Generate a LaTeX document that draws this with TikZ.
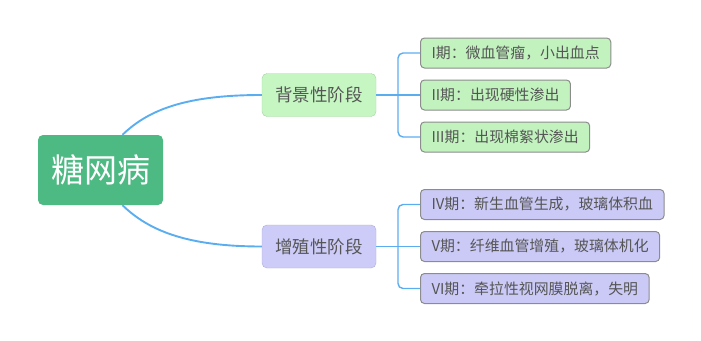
\documentclass[tikz,border=0pt]{standalone}
\usepackage{fontspec}
\setmainfont{Noto Sans CJK SC}
\definecolor{rootgreen}{HTML}{4DB983}
\definecolor{stageG}{HTML}{C6F7C3}
\definecolor{stageP}{HTML}{CDCCF8}
\definecolor{leafG}{HTML}{C2F3BF}
\definecolor{leafP}{HTML}{CBCAF6}
\definecolor{linkblue}{HTML}{5AAEF0}
\definecolor{txtgray}{HTML}{555555}
\begin{document}
\begin{tikzpicture}[x=1pt,y=-1pt,
  conn/.style={draw=linkblue, line width=1.9pt},
  bracket/.style={draw=linkblue, line width=1.4pt},
  rootbox/.style={rounded corners=5pt, fill=rootgreen, text=white,
    font=\fontsize{33}{36}\selectfont, minimum width=125pt, minimum height=70pt, inner sep=0pt},
  stagebox/.style={rounded corners=5pt, fill=#1, draw=#1!85!black, line width=0.4pt, text=txtgray,
    font=\fontsize{17.5}{20}\selectfont, minimum width=114pt, minimum height=43pt, inner sep=0pt},
  leafbox/.style={rounded corners=4pt, fill=#1, draw=black!45, line width=1pt, text=txtgray,
    font=\fontsize{14.9}{17}\selectfont, minimum height=30pt, inner xsep=11pt, inner ysep=0pt, anchor=west}
]
\useasboundingbox (0,0) rectangle (701,340);
\node[rootbox] (root) at (100.5,170) {糖网病};
\node[stagebox=stageG] (s1) at (319,95) {背景性阶段};
\node[stagebox=stageP] (s2) at (319,246.5) {增殖性阶段};

\node[leafbox=leafG] (l1) at (420,53) {I期：微血管瘤，小出血点};
\node[leafbox=leafG] (l2) at (420,95) {II期：出现硬性渗出};
\node[leafbox=leafG] (l3) at (420,137) {III期：出现棉絮状渗出};
\node[leafbox=leafP] (l4) at (420,204.5) {IV期：新生血管生成，玻璃体积血};
\node[leafbox=leafP] (l5) at (420,246.5) {V期：纤维血管增殖，玻璃体机化};
\node[leafbox=leafP] (l6) at (420,288.5) {VI期：牵拉性视网膜脱离，失明};

\coordinate (b1) at (398,95);
\coordinate (b2) at (398,246.5);

\draw[conn] ([xshift=22pt]root.north) .. controls (150,108) and (190,95) .. (s1.west);
\draw[conn] ([xshift=22pt]root.south) .. controls (150,232) and (190,246.5) .. (s2.west);

\draw[bracket] (s1.east) -- (b1);
\draw[bracket, rounded corners=5pt] (b1) |- (l1.west);
\draw[bracket] (b1) -- (l2.west);
\draw[bracket, rounded corners=5pt] (b1) |- (l3.west);

\draw[bracket] (s2.east) -- (b2);
\draw[bracket, rounded corners=5pt] (b2) |- (l4.west);
\draw[bracket] (b2) -- (l5.west);
\draw[bracket, rounded corners=5pt] (b2) |- (l6.west);
\end{tikzpicture}
\end{document}
